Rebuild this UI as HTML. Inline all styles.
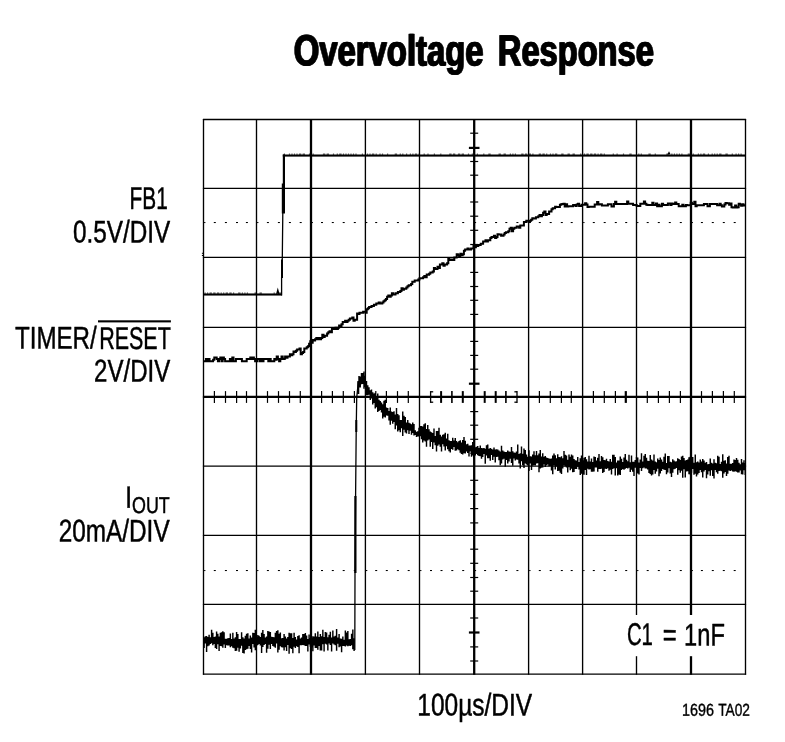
<!DOCTYPE html>
<html lang="en"><head><meta charset="utf-8"><title>Overvoltage Response</title>
<style>html,body{margin:0;padding:0;background:#fff}body{width:785px;height:742px;overflow:hidden}svg{display:block}text{font-family:"Liberation Sans",sans-serif;fill:#000;stroke:#000;stroke-width:0.5px;stroke-linejoin:round}</style>
</head><body>
<svg width="785" height="742" viewBox="0 0 785 742">
<defs><filter id="hb" x="-2%" y="-10%" width="104%" height="120%"><feOffset in="SourceGraphic" dx="-0.5" result="a"/><feOffset in="SourceGraphic" dx="0.5" result="b"/><feMerge><feMergeNode in="a"/><feMergeNode in="b"/></feMerge></filter></defs>
<rect width="785" height="742" fill="#fff"/>
<g stroke="#000" fill="none"><line x1="203.5" y1="118.9" x2="203.5" y2="674.8000000000001" stroke-width="1.35"/><line x1="256.5" y1="118.9" x2="256.5" y2="674.8000000000001" stroke-width="1.35"/><line x1="311.0" y1="118.9" x2="311.0" y2="674.8000000000001" stroke-width="2.3"/><line x1="365.4" y1="118.9" x2="365.4" y2="674.8000000000001" stroke-width="1.35"/><line x1="419.5" y1="118.9" x2="419.5" y2="674.8000000000001" stroke-width="1.35"/><line x1="474.2" y1="118.9" x2="474.2" y2="674.8000000000001" stroke-width="2.3"/><line x1="528.6" y1="118.9" x2="528.6" y2="674.8000000000001" stroke-width="1.35"/><line x1="582.6" y1="118.9" x2="582.6" y2="674.8000000000001" stroke-width="1.35"/><line x1="636.5" y1="118.9" x2="636.5" y2="674.8000000000001" stroke-width="1.35"/><line x1="691.0" y1="118.9" x2="691.0" y2="674.8000000000001" stroke-width="2.3"/><line x1="745.5" y1="118.9" x2="745.5" y2="674.8000000000001" stroke-width="1.35"/><line x1="202.9" y1="119.5" x2="746.1" y2="119.5" stroke-width="1.3"/><line x1="202.9" y1="188.4" x2="746.1" y2="188.4" stroke-width="1.3"/><line x1="202.9" y1="257.4" x2="746.1" y2="257.4" stroke-width="1.3"/><line x1="202.9" y1="327.4" x2="746.1" y2="327.4" stroke-width="1.3"/><line x1="202.9" y1="396.9" x2="746.1" y2="396.9" stroke-width="2.2"/><line x1="202.9" y1="466.2" x2="746.1" y2="466.2" stroke-width="1.3"/><line x1="202.9" y1="535.3" x2="746.1" y2="535.3" stroke-width="1.3"/><line x1="202.9" y1="604.3" x2="746.1" y2="604.3" stroke-width="1.3"/><line x1="202.9" y1="674.2" x2="746.1" y2="674.2" stroke-width="1.3"/></g>
<g fill="#000"><rect x="204.1" y="222.0" width="1.3" height="1.05"/><rect x="257.1" y="222.0" width="1.3" height="1.05"/><rect x="311.6" y="222.0" width="1.3" height="1.05"/><rect x="366.0" y="222.0" width="1.3" height="1.05"/><rect x="420.1" y="222.0" width="1.3" height="1.05"/><rect x="474.8" y="222.0" width="1.3" height="1.05"/><rect x="529.2" y="222.0" width="1.3" height="1.05"/><rect x="583.2" y="222.0" width="1.3" height="1.05"/><rect x="637.1" y="222.0" width="1.3" height="1.05"/><rect x="691.6" y="222.0" width="1.3" height="1.05"/><rect x="213.8" y="222.0" width="2.0" height="1.05"/><rect x="224.9" y="222.0" width="2.0" height="1.05"/><rect x="236.0" y="222.0" width="2.0" height="1.05"/><rect x="245.9" y="222.0" width="2.0" height="1.05"/><rect x="266.9" y="222.0" width="2.0" height="1.05"/><rect x="277.9" y="222.0" width="2.0" height="1.05"/><rect x="288.9" y="222.0" width="2.0" height="1.05"/><rect x="299.7" y="222.0" width="2.0" height="1.05"/><rect x="321.0" y="222.0" width="2.0" height="1.05"/><rect x="331.8" y="222.0" width="2.0" height="1.05"/><rect x="342.7" y="222.0" width="2.0" height="1.05"/><rect x="353.8" y="222.0" width="2.0" height="1.05"/><rect x="375.2" y="222.0" width="2.0" height="1.05"/><rect x="385.8" y="222.0" width="2.0" height="1.05"/><rect x="396.9" y="222.0" width="2.0" height="1.05"/><rect x="407.7" y="222.0" width="2.0" height="1.05"/><rect x="430.0" y="222.0" width="2.0" height="1.05"/><rect x="440.5" y="222.0" width="2.0" height="1.05"/><rect x="451.3" y="222.0" width="2.0" height="1.05"/><rect x="462.2" y="222.0" width="2.0" height="1.05"/><rect x="484.1" y="222.0" width="2.0" height="1.05"/><rect x="495.1" y="222.0" width="2.0" height="1.05"/><rect x="505.3" y="222.0" width="2.0" height="1.05"/><rect x="516.4" y="222.0" width="2.0" height="1.05"/><rect x="538.8" y="222.0" width="2.0" height="1.05"/><rect x="549.7" y="222.0" width="2.0" height="1.05"/><rect x="560.8" y="222.0" width="2.0" height="1.05"/><rect x="570.7" y="222.0" width="2.0" height="1.05"/><rect x="592.8" y="222.0" width="2.0" height="1.05"/><rect x="603.7" y="222.0" width="2.0" height="1.05"/><rect x="614.8" y="222.0" width="2.0" height="1.05"/><rect x="625.2" y="222.0" width="2.0" height="1.05"/><rect x="646.7" y="222.0" width="2.0" height="1.05"/><rect x="657.8" y="222.0" width="2.0" height="1.05"/><rect x="668.8" y="222.0" width="2.0" height="1.05"/><rect x="679.8" y="222.0" width="2.0" height="1.05"/><rect x="700.9" y="222.0" width="2.0" height="1.05"/><rect x="711.8" y="222.0" width="2.0" height="1.05"/><rect x="722.8" y="222.0" width="2.0" height="1.05"/><rect x="733.7" y="222.0" width="2.0" height="1.05"/><rect x="204.1" y="570.0" width="1.3" height="1.05"/><rect x="257.1" y="570.0" width="1.3" height="1.05"/><rect x="311.6" y="570.0" width="1.3" height="1.05"/><rect x="366.0" y="570.0" width="1.3" height="1.05"/><rect x="420.1" y="570.0" width="1.3" height="1.05"/><rect x="474.8" y="570.0" width="1.3" height="1.05"/><rect x="529.2" y="570.0" width="1.3" height="1.05"/><rect x="583.2" y="570.0" width="1.3" height="1.05"/><rect x="637.1" y="570.0" width="1.3" height="1.05"/><rect x="691.6" y="570.0" width="1.3" height="1.05"/><rect x="213.8" y="570.0" width="2.0" height="1.05"/><rect x="224.9" y="570.0" width="2.0" height="1.05"/><rect x="236.0" y="570.0" width="2.0" height="1.05"/><rect x="245.9" y="570.0" width="2.0" height="1.05"/><rect x="266.9" y="570.0" width="2.0" height="1.05"/><rect x="277.9" y="570.0" width="2.0" height="1.05"/><rect x="288.9" y="570.0" width="2.0" height="1.05"/><rect x="299.7" y="570.0" width="2.0" height="1.05"/><rect x="321.0" y="570.0" width="2.0" height="1.05"/><rect x="331.8" y="570.0" width="2.0" height="1.05"/><rect x="342.7" y="570.0" width="2.0" height="1.05"/><rect x="353.8" y="570.0" width="2.0" height="1.05"/><rect x="375.2" y="570.0" width="2.0" height="1.05"/><rect x="385.8" y="570.0" width="2.0" height="1.05"/><rect x="396.9" y="570.0" width="2.0" height="1.05"/><rect x="407.7" y="570.0" width="2.0" height="1.05"/><rect x="430.0" y="570.0" width="2.0" height="1.05"/><rect x="440.5" y="570.0" width="2.0" height="1.05"/><rect x="451.3" y="570.0" width="2.0" height="1.05"/><rect x="462.2" y="570.0" width="2.0" height="1.05"/><rect x="484.1" y="570.0" width="2.0" height="1.05"/><rect x="495.1" y="570.0" width="2.0" height="1.05"/><rect x="505.3" y="570.0" width="2.0" height="1.05"/><rect x="516.4" y="570.0" width="2.0" height="1.05"/><rect x="538.8" y="570.0" width="2.0" height="1.05"/><rect x="549.7" y="570.0" width="2.0" height="1.05"/><rect x="560.8" y="570.0" width="2.0" height="1.05"/><rect x="570.7" y="570.0" width="2.0" height="1.05"/><rect x="592.8" y="570.0" width="2.0" height="1.05"/><rect x="603.7" y="570.0" width="2.0" height="1.05"/><rect x="614.8" y="570.0" width="2.0" height="1.05"/><rect x="625.2" y="570.0" width="2.0" height="1.05"/><rect x="646.7" y="570.0" width="2.0" height="1.05"/><rect x="657.8" y="570.0" width="2.0" height="1.05"/><rect x="668.8" y="570.0" width="2.0" height="1.05"/><rect x="679.8" y="570.0" width="2.0" height="1.05"/><rect x="700.9" y="570.0" width="2.0" height="1.05"/><rect x="711.8" y="570.0" width="2.0" height="1.05"/><rect x="722.8" y="570.0" width="2.0" height="1.05"/><rect x="733.7" y="570.0" width="2.0" height="1.05"/></g>
<g stroke="#000" fill="none"><line x1="214.4" y1="391.1" x2="214.4" y2="402.9" stroke-width="1.2"/><line x1="225.5" y1="391.1" x2="225.5" y2="402.9" stroke-width="1.2"/><line x1="236.6" y1="391.1" x2="236.6" y2="402.9" stroke-width="1.2"/><line x1="246.5" y1="391.1" x2="246.5" y2="402.9" stroke-width="1.2"/><line x1="267.5" y1="391.1" x2="267.5" y2="402.9" stroke-width="1.2"/><line x1="278.5" y1="391.1" x2="278.5" y2="402.9" stroke-width="1.2"/><line x1="289.5" y1="391.1" x2="289.5" y2="402.9" stroke-width="1.2"/><line x1="300.3" y1="391.1" x2="300.3" y2="402.9" stroke-width="1.2"/><line x1="321.6" y1="391.1" x2="321.6" y2="402.9" stroke-width="1.2"/><line x1="332.4" y1="391.1" x2="332.4" y2="402.9" stroke-width="1.2"/><line x1="343.3" y1="391.1" x2="343.3" y2="402.9" stroke-width="1.2"/><line x1="354.4" y1="391.1" x2="354.4" y2="402.9" stroke-width="1.2"/><line x1="375.8" y1="391.1" x2="375.8" y2="402.9" stroke-width="1.2"/><line x1="386.4" y1="391.1" x2="386.4" y2="402.9" stroke-width="1.2"/><line x1="397.5" y1="391.1" x2="397.5" y2="402.9" stroke-width="1.2"/><line x1="408.3" y1="391.1" x2="408.3" y2="402.9" stroke-width="1.2"/><line x1="430.6" y1="391.8" x2="433.2" y2="391.8" stroke-width="1.3"/><line x1="430.6" y1="402.2" x2="433.2" y2="402.2" stroke-width="1.3"/><line x1="430.6" y1="391.1" x2="430.6" y2="402.9" stroke-width="1.3"/><line x1="441.1" y1="391.1" x2="441.1" y2="402.9" stroke-width="2.0"/><line x1="451.9" y1="391.1" x2="451.9" y2="402.9" stroke-width="1.6"/><line x1="462.8" y1="391.1" x2="462.8" y2="402.9" stroke-width="2.0"/><line x1="484.7" y1="391.1" x2="484.7" y2="402.9" stroke-width="2.0"/><line x1="495.7" y1="391.1" x2="495.7" y2="402.9" stroke-width="2.0"/><line x1="505.9" y1="391.1" x2="505.9" y2="402.9" stroke-width="1.6"/><line x1="517.0" y1="391.8" x2="514.4" y2="391.8" stroke-width="1.3"/><line x1="517.0" y1="402.2" x2="514.4" y2="402.2" stroke-width="1.3"/><line x1="517.0" y1="391.1" x2="517.0" y2="402.9" stroke-width="1.3"/><line x1="539.4" y1="391.1" x2="539.4" y2="402.9" stroke-width="1.2"/><line x1="550.3" y1="391.1" x2="550.3" y2="402.9" stroke-width="1.2"/><line x1="561.4" y1="391.1" x2="561.4" y2="402.9" stroke-width="1.2"/><line x1="571.3" y1="391.1" x2="571.3" y2="402.9" stroke-width="1.2"/><line x1="593.4" y1="391.1" x2="593.4" y2="402.9" stroke-width="1.2"/><line x1="604.3" y1="391.1" x2="604.3" y2="402.9" stroke-width="1.2"/><line x1="615.4" y1="391.1" x2="615.4" y2="402.9" stroke-width="1.2"/><line x1="625.8" y1="391.1" x2="625.8" y2="402.9" stroke-width="2.2"/><line x1="647.3" y1="391.1" x2="647.3" y2="402.9" stroke-width="1.2"/><line x1="658.4" y1="391.1" x2="658.4" y2="402.9" stroke-width="1.2"/><line x1="669.4" y1="391.1" x2="669.4" y2="402.9" stroke-width="1.2"/><line x1="680.4" y1="391.1" x2="680.4" y2="402.9" stroke-width="1.2"/><line x1="701.5" y1="391.1" x2="701.5" y2="402.9" stroke-width="1.2"/><line x1="712.4" y1="391.1" x2="712.4" y2="402.9" stroke-width="1.2"/><line x1="723.4" y1="391.1" x2="723.4" y2="402.9" stroke-width="1.2"/><line x1="734.3" y1="391.1" x2="734.3" y2="402.9" stroke-width="1.2"/><line x1="470.2" y1="133.2" x2="478.2" y2="133.2" stroke-width="1.2"/><line x1="468.9" y1="147.9" x2="479.5" y2="147.9" stroke-width="2.2"/><line x1="470.2" y1="161.5" x2="478.2" y2="161.5" stroke-width="1.2"/><line x1="470.2" y1="175.2" x2="478.2" y2="175.2" stroke-width="1.2"/><line x1="470.2" y1="202.0" x2="478.2" y2="202.0" stroke-width="1.2"/><line x1="470.2" y1="216.2" x2="478.2" y2="216.2" stroke-width="1.2"/><line x1="470.2" y1="230.3" x2="478.2" y2="230.3" stroke-width="1.2"/><line x1="470.2" y1="244.5" x2="478.2" y2="244.5" stroke-width="1.2"/><line x1="470.2" y1="272.4" x2="478.2" y2="272.4" stroke-width="1.2"/><line x1="470.2" y1="286.5" x2="478.2" y2="286.5" stroke-width="1.2"/><line x1="470.2" y1="300.3" x2="478.2" y2="300.3" stroke-width="1.2"/><line x1="470.2" y1="314.4" x2="478.2" y2="314.4" stroke-width="1.2"/><line x1="470.2" y1="341.4" x2="478.2" y2="341.4" stroke-width="1.2"/><line x1="470.2" y1="355.4" x2="478.2" y2="355.4" stroke-width="1.2"/><line x1="470.2" y1="369.2" x2="478.2" y2="369.2" stroke-width="1.2"/><line x1="468.9" y1="383.7" x2="479.5" y2="383.7" stroke-width="2.2"/><line x1="470.2" y1="411.6" x2="478.2" y2="411.6" stroke-width="1.2"/><line x1="470.2" y1="425.2" x2="478.2" y2="425.2" stroke-width="1.2"/><line x1="470.2" y1="439.3" x2="478.2" y2="439.3" stroke-width="1.2"/><line x1="470.2" y1="453.2" x2="478.2" y2="453.2" stroke-width="1.2"/><line x1="470.2" y1="480.3" x2="478.2" y2="480.3" stroke-width="1.2"/><line x1="470.2" y1="494.4" x2="478.2" y2="494.4" stroke-width="1.2"/><line x1="470.2" y1="508.6" x2="478.2" y2="508.6" stroke-width="1.2"/><line x1="470.2" y1="522.9" x2="478.2" y2="522.9" stroke-width="1.2"/><line x1="470.2" y1="549.2" x2="478.2" y2="549.2" stroke-width="1.2"/><line x1="470.2" y1="563.3" x2="478.2" y2="563.3" stroke-width="1.2"/><line x1="470.2" y1="577.5" x2="478.2" y2="577.5" stroke-width="1.2"/><line x1="470.2" y1="591.2" x2="478.2" y2="591.2" stroke-width="1.2"/><line x1="470.2" y1="618.0" x2="478.2" y2="618.0" stroke-width="1.2"/><line x1="468.9" y1="632.5" x2="479.5" y2="632.5" stroke-width="2.2"/><line x1="470.2" y1="646.9" x2="478.2" y2="646.9" stroke-width="1.2"/><line x1="470.2" y1="661.0" x2="478.2" y2="661.0" stroke-width="1.2"/></g>
<g stroke="#000" fill="none" stroke-linejoin="miter">
<rect x="203.5" y="293.45" width="78.4" height="2.1" fill="#000" stroke="none"/><path stroke-width="0.9" d="M204.5,293.10h1.2M207.0,293.10h1.2M209.5,293.10h2.4M213.2,293.10h2.4M216.9,293.10h2.4M220.6,293.10h1.2M223.1,293.10h1.2M225.6,293.10h2.4M229.3,293.10h2.4M233.0,293.10h1.2M238.1,293.10h2.4M241.8,293.10h1.2M244.3,293.10h1.2M246.8,293.10h1.2M254.5,293.10h2.4M259.5,293.10h2.4M273.6,293.10h1.2M278.7,293.10h2.4"/>
<polyline stroke-width="1.4" points="276.8,294 277.8,290.3 278.8,294"/>
<polyline stroke-width="1.3" points="281.6,295.4 281.6,278 282.3,258 282.8,213"/>
<line x1="282" y1="259.5" x2="282" y2="278" stroke-width="2"/>
<line x1="283.4" y1="183.5" x2="283.4" y2="213.5" stroke-width="3.2"/>
<line x1="283.9" y1="154.5" x2="283.9" y2="185" stroke-width="2.2"/>
<rect x="282.8" y="154.50" width="462.7" height="2.1" fill="#000" stroke="none"/><path stroke-width="0.9" d="M283.8,154.15h1.2M288.9,154.15h1.2M291.4,154.15h1.2M293.9,154.15h1.2M296.4,154.15h1.2M298.9,154.15h2.4M302.6,154.15h2.4M308.9,154.15h2.4M312.6,154.15h1.2M322.9,154.15h2.4M326.6,154.15h2.4M332.9,154.15h1.2M336.7,154.15h1.2M339.2,154.15h2.4M342.9,154.15h1.2M345.4,154.15h1.2M347.9,154.15h1.2M350.4,154.15h1.2M352.9,154.15h1.2M355.4,154.15h1.2M361.8,154.15h1.2M366.9,154.15h1.2M369.4,154.15h1.2M371.9,154.15h2.4M375.6,154.15h1.2M379.4,154.15h1.2M381.9,154.15h1.2M387.0,154.15h1.2M394.7,154.15h2.4M399.7,154.15h1.2M402.2,154.15h1.2M406.0,154.15h1.2M409.8,154.15h1.2M412.3,154.15h1.2M414.8,154.15h2.4M418.5,154.15h1.2M423.6,154.15h1.2M427.4,154.15h1.2M433.8,154.15h1.2M440.2,154.15h1.2M449.2,154.15h2.4M452.9,154.15h2.4M457.9,154.15h2.4M461.6,154.15h2.4M467.9,154.15h1.2M471.7,154.15h1.2M476.8,154.15h1.2M483.2,154.15h1.2M488.3,154.15h2.4M498.5,154.15h2.4M503.5,154.15h2.4M509.8,154.15h1.2M512.3,154.15h1.2M514.8,154.15h1.2M521.2,154.15h2.4M524.9,154.15h2.4M528.6,154.15h2.4M532.3,154.15h1.2M538.7,154.15h2.4M542.4,154.15h2.4M546.1,154.15h1.2M549.9,154.15h1.2M552.4,154.15h1.2M554.9,154.15h2.4M561.2,154.15h2.4M567.5,154.15h2.4M572.5,154.15h2.4M580.1,154.15h1.2M583.9,154.15h1.2M586.4,154.15h2.4M590.1,154.15h2.4M593.8,154.15h2.4M597.5,154.15h1.2M600.0,154.15h2.4M603.7,154.15h1.2M612.7,154.15h1.2M616.5,154.15h1.2M622.9,154.15h1.2M629.3,154.15h2.4M638.2,154.15h1.2M640.7,154.15h1.2M648.4,154.15h2.4M654.7,154.15h1.2M666.3,154.15h2.4M671.3,154.15h1.2M673.8,154.15h1.2M676.3,154.15h1.2M678.8,154.15h1.2M681.3,154.15h1.2M687.7,154.15h2.4M692.7,154.15h1.2M697.8,154.15h1.2M700.3,154.15h1.2M702.8,154.15h2.4M707.8,154.15h1.2M711.6,154.15h1.2M714.1,154.15h1.2M716.6,154.15h1.2M719.1,154.15h2.4M725.4,154.15h2.4M731.7,154.15h1.2M735.5,154.15h1.2M738.0,154.15h1.2M740.5,154.15h1.2"/>
<polyline stroke-width="1.2" points="668,154.5 669,152.6 670,154.5"/>
<path stroke-width="2.0" stroke-linejoin="miter" d="M203.5,361.20H204.7V361.20H205.9V358.90H207.1V361.20H208.3V358.90H209.5V361.20H210.7V361.20H211.9V361.20H213.1V359.70H214.3V357.40H215.5V357.40H216.7V358.90H217.9V361.20H219.1V358.90H220.3V357.40H221.5V361.20H222.7V357.40H223.9V358.90H225.1V361.20H226.3V361.20H227.5V361.20H228.7V361.20H229.9V358.90H231.1V361.20H232.3V357.40H233.5V361.20H234.7V361.20H235.9V358.90H237.1V358.90H238.3V358.90H239.5V358.90H240.7V358.90H241.9V361.20H243.1V361.20H244.3V361.20H245.5V361.20H246.7V358.90H247.9V358.90H249.1V358.90H250.3V357.40H251.5V358.90H252.7V357.40H253.9V358.90H255.1V361.20H256.3V361.20H257.5V358.90H258.7V358.90H259.9V361.20H261.1V358.90H262.3V361.20H263.5V358.90H264.7V358.90H265.9V358.90H267.1V358.90H268.3V361.20H269.5V358.90H270.7V361.20H271.9V361.20H273.1V361.20H274.3V358.90H275.5V359.70H276.7V356.60H277.9V358.90H279.1V361.20H280.3V358.90H281.5V356.60H282.7V358.90H283.9V358.80H285.1V356.50H286.3V357.65H287.5V356.50H288.7V356.50H289.9V354.20H291.1V355.35H292.3V354.20H293.5V351.55H294.7V351.90H295.9V350.75H297.1V349.60H298.3V349.60H299.5V348.45H300.7V354.20H301.9V353.05H303.1V351.90H304.3V348.45H305.5V348.45H306.7V347.30H307.9V346.15H309.1V343.85H310.3V341.20H311.5V342.70H312.7V340.05H313.9V340.40H315.1V339.25H316.3V338.10H317.5V339.25H318.7V338.10H319.9V339.25H321.1V338.10H322.3V334.65H323.5V336.95H324.7V335.80H325.9V335.80H327.1V333.50H328.3V332.35H329.5V331.20H330.7V332.35H331.9V328.90H333.1V328.90H334.3V328.90H335.5V327.75H336.7V328.90H337.9V327.75H339.1V325.45H340.3V326.60H341.5V324.30H342.7V322.00H343.9V322.00H345.1V320.85H346.3V322.00H347.5V320.85H348.7V319.70H349.9V318.55H351.1V318.55H352.3V317.40H353.5V320.85H354.7V319.70H355.9V319.70H357.1V313.60H358.3V313.95H359.5V312.80H360.7V312.80H361.9V312.80H363.1V311.65H364.3V311.65H365.5V312.80H366.7V309.35H367.9V308.20H369.1V307.05H370.3V307.05H371.5V305.90H372.7V305.90H373.9V304.75H375.1V304.75H376.3V303.60H377.5V303.60H378.7V302.45H379.9V303.60H381.1V303.60H382.3V302.45H383.5V301.30H384.7V300.15H385.9V299.00H387.1V296.70H388.3V295.55H389.5V296.70H390.7V295.55H391.9V293.25H393.1V294.40H394.3V294.40H395.5V293.25H396.7V293.25H397.9V292.10H399.1V292.10H400.3V290.95H401.5V288.30H402.7V289.80H403.9V288.65H405.1V288.65H406.3V287.50H407.5V286.35H408.7V285.20H409.9V285.20H411.1V284.05H412.3V281.75H413.5V281.75H414.7V280.60H415.9V280.60H417.1V280.60H418.3V279.45H419.5V278.30H420.7V278.30H421.9V278.30H423.1V277.15H424.3V276.00H425.5V277.15H426.7V274.50H427.9V274.85H429.1V273.70H430.3V272.55H431.5V272.55H432.7V271.40H433.9V267.95H435.1V269.10H436.3V269.10H437.5V266.80H438.7V267.95H439.9V264.50H441.1V264.50H442.3V263.35H443.5V265.65H444.7V264.50H445.9V264.50H447.1V263.35H448.3V258.75H449.5V259.90H450.7V259.90H451.9V259.55H453.1V259.90H454.3V257.60H455.5V257.60H456.7V254.15H457.9V255.30H459.1V256.45H460.3V253.80H461.5V255.30H462.7V254.15H463.9V250.70H465.1V249.55H466.3V249.55H467.5V248.40H468.7V249.55H469.9V249.55H471.1V248.40H472.3V248.40H473.5V245.75H474.7V247.25H475.9V246.10H477.1V246.10H478.3V244.95H479.5V244.95H480.7V243.80H481.9V243.80H483.1V241.50H484.3V241.50H485.5V240.35H486.7V241.50H487.9V240.35H489.1V240.35H490.3V238.05H491.5V236.90H492.7V236.90H493.9V235.75H495.1V238.05H496.3V236.90H497.5V234.25H498.7V234.60H499.9V234.60H501.1V235.75H502.3V235.75H503.5V234.60H504.7V233.10H505.9V232.30H507.1V232.30H508.3V231.15H509.5V228.85H510.7V227.70H511.9V231.15H513.1V228.85H514.3V227.70H515.5V227.70H516.7V226.55H517.9V226.55H519.1V227.70H520.3V225.40H521.5V225.40H522.7V225.40H523.9V221.95H525.1V221.95H526.3V220.80H527.5V220.80H528.7V221.95H529.9V220.80H531.1V219.65H532.3V218.15H533.5V218.50H534.7V218.50H535.9V217.35H537.1V217.35H538.3V216.20H539.5V215.05H540.7V216.20H541.9V215.05H543.1V212.75H544.3V211.60H545.5V215.05H546.7V213.90H547.9V213.90H549.1V211.60H550.3V211.60H551.5V209.30H552.7V208.15H553.9V208.15H555.1V206.65H556.3V207.00H557.5V207.00H558.7V207.00H559.9V204.70H561.1V204.36H562.3V204.09H563.5V203.82H564.7V206.47H565.9V204.13H567.1V206.39H568.3V206.35H569.5V206.31H570.7V206.27H571.9V206.23H573.1V204.99H574.3V204.95H575.5V206.11H576.7V204.57H577.9V203.74H579.1V206.00H580.3V205.96H581.5V204.72H582.7V204.69H583.9V204.66H585.1V203.14H586.3V204.62H587.5V206.90H588.7V206.87H589.9V206.85H591.1V206.83H592.3V206.81H593.5V206.78H594.7V204.46H595.9V204.44H597.1V202.12H598.3V204.39H599.5V204.37H600.7V204.35H601.9V205.53H603.1V205.50H604.3V205.48H605.5V205.46H606.7V205.44H607.9V204.21H609.1V204.19H610.3V204.17H611.5V206.45H612.7V206.42H613.9V204.10H615.1V201.78H616.3V204.06H617.5V204.03H618.7V204.01H619.9V203.99H621.1V203.97H622.3V203.94H623.5V203.92H624.7V203.90H625.9V203.88H627.1V201.55H628.3V203.83H629.5V203.81H630.7V203.80H631.9V203.80H633.1V205.01H634.3V205.01H635.5V205.01H636.7V206.11H637.9V206.12H639.1V206.12H640.3V203.82H641.5V203.83H642.7V203.83H643.9V201.53H645.1V203.83H646.3V204.64H647.5V205.04H648.7V205.04H649.9V205.04H651.1V205.05H652.3V202.75H653.5V205.05H654.7V205.05H655.9V203.56H657.1V206.16H658.3V204.66H659.5V206.17H660.7V206.17H661.9V203.87H663.1V205.07H664.3V205.08H665.5V205.08H666.7V205.08H667.9V203.58H669.1V203.59H670.3V205.09H671.5V203.59H672.7V203.89H673.9V203.90H675.1V202.40H676.3V203.90H677.5V203.91H678.7V206.21H679.9V206.21H681.1V206.21H682.3V204.72H683.5V206.22H684.7V206.22H685.9V205.12H687.1V205.13H688.3V205.13H689.5V205.13H690.7V202.83H691.9V203.64H693.1V203.94H694.3V201.64H695.5V206.25H696.7V205.15H697.9V205.15H699.1V205.15H700.3V205.16H701.5V205.16H702.7V205.16H703.9V203.96H705.1V203.97H706.3V203.97H707.5V206.27H708.7V206.27H709.9V203.98H711.1V203.98H712.3V203.98H713.5V203.99H714.7V203.99H715.9V203.99H717.1V205.19H718.3V205.20H719.5V203.70H720.7V205.27H721.9V206.48H723.1V206.59H724.3V204.40H725.5V203.01H726.7V203.13H727.9V203.24H729.1V204.85H730.3V203.46H731.5V207.37H732.7V207.49H733.9V207.60H735.1V205.39H736.3V207.53H737.5V207.37H738.7V203.81H739.9V204.45H741.1V205.79H742.3V204.13H743.5V205.47H744.7V205.31H745.5"/>
<path stroke-width="1.45" d="M204.10,637.2V647.9M205.35,636.2V643.5M206.60,635.9V652.1M207.85,636.9V646.3M209.10,634.7V645.5M210.35,637.2V644.0M211.60,629.8V643.3M212.85,632.7V645.3M214.10,637.0V644.1M215.35,636.4V648.0M216.60,631.6V649.0M217.85,633.7V644.2M219.10,636.5V651.0M220.35,632.8V646.1M221.60,632.3V646.2M222.85,631.3V647.8M224.10,632.2V644.4M225.35,638.7V648.0M226.60,638.8V645.3M227.85,638.2V645.5M229.10,638.1V645.4M230.35,633.4V647.2M231.60,638.9V646.2M232.85,632.7V647.7M234.10,638.4V648.2M235.35,637.2V651.1M236.60,632.1V650.8M237.85,634.0V647.8M239.10,639.1V651.7M240.35,639.1V648.4M241.60,632.3V645.8M242.85,637.3V652.9M244.10,638.5V653.6M245.35,635.8V650.0M246.60,633.8V649.2M247.85,633.3V648.8M249.10,638.6V646.1M250.35,635.6V648.9M251.60,637.4V652.5M252.85,632.8V644.1M254.10,632.9V647.5M255.35,629.8V650.2M256.60,636.8V646.0M257.85,635.0V644.9M259.10,635.8V644.1M260.35,637.0V645.6M261.60,632.7V653.0M262.85,630.0V647.1M264.10,634.0V645.0M265.35,637.5V643.9M266.60,636.4V652.8M267.85,630.9V648.7M269.10,631.5V644.7M270.35,632.1V649.0M271.60,636.8V644.1M272.85,636.9V646.0M274.10,637.3V646.8M275.35,632.7V647.7M276.60,631.0V643.5M277.85,630.3V652.4M279.10,633.8V649.8M280.35,632.6V646.3M281.60,638.2V647.3M282.85,638.1V647.4M284.10,634.1V650.4M285.35,636.4V647.2M286.60,638.5V650.9M287.85,637.0V644.9M289.10,632.8V653.7M290.35,633.2V648.3M291.60,633.2V648.9M292.85,637.9V653.3M294.10,632.7V646.8M295.35,637.0V647.9M296.60,639.5V646.2M297.85,636.1V646.9M299.10,635.3V653.3M300.35,638.4V645.2M301.60,637.6V645.3M302.85,634.0V645.1M304.10,634.0V645.3M305.35,633.1V645.9M306.60,635.4V646.1M307.85,639.0V651.5M309.10,634.6V644.6M310.35,638.0V646.7M311.60,637.8V647.5M312.85,636.2V651.2M314.10,636.6V645.5M315.35,633.2V648.1M316.60,636.4V648.0M317.85,631.6V649.8M319.10,636.9V645.9M320.35,633.9V650.4M321.60,636.2V650.5M322.85,629.8V644.2M324.10,637.1V651.4M325.35,632.1V643.7M326.60,632.4V644.6M327.85,637.3V650.5M329.10,634.7V643.6M330.35,631.8V645.1M331.60,637.5V651.5M332.85,630.6V643.5M334.10,636.4V644.5M335.35,635.8V645.3M336.60,629.0V650.8M337.85,637.5V643.8M339.10,633.9V647.3M340.35,638.6V646.5M341.60,638.8V652.2M342.85,636.6V646.0M344.10,639.7V646.0M345.35,630.6V646.4M346.60,632.4V645.5M347.85,630.9V646.2M349.10,639.3V645.8M350.35,639.0V645.9M351.60,633.8V645.3M352.85,629.6V649.2M354.10,638.3V651.1"/>
<polyline stroke-width="1.3" points="354.8,650 355.0,573 355.6,496 356.2,431 356.7,398 357.7,388 358.3,382"/>
<line x1="355.4" y1="496" x2="355.4" y2="573" stroke-width="2.2"/>
<line x1="356.3" y1="420" x2="356.3" y2="432" stroke-width="2.0"/>
<line x1="358.3" y1="381" x2="358.3" y2="394" stroke-width="2.0"/>
<path stroke-width="1.45" d="M359.00,376.0V387.4M360.25,376.5V387.4M361.50,373.0V384.3M362.75,373.0V383.9M364.00,371.4V388.8M365.25,375.7V387.1M366.50,381.1V395.2M367.75,385.2V395.2M369.00,387.3V394.7M370.25,390.2V400.0M371.50,389.5V398.4M372.75,392.2V404.4M374.00,393.6V402.9M375.25,392.7V408.4M376.50,396.5V407.2M377.75,393.5V411.9M379.00,399.8V411.1M380.25,401.0V410.1M381.50,402.5V412.6M382.75,404.3V418.4M384.00,400.7V416.8M385.25,399.7V417.4M386.50,407.6V415.5M387.75,408.1V415.8M389.00,411.1V420.6M390.25,407.6V424.8M391.50,411.6V420.8M392.75,411.9V423.7M394.00,411.2V422.1M395.25,414.6V429.2M396.50,408.0V425.4M397.75,413.9V431.4M399.00,415.3V430.2M400.25,420.0V432.3M401.50,420.0V428.3M402.75,411.6V435.9M404.00,415.7V429.8M405.25,417.0V432.4M406.50,422.5V433.6M407.75,419.9V430.3M409.00,422.8V434.0M410.25,423.5V430.8M411.50,424.3V434.7M412.75,422.5V432.9M414.00,423.9V435.5M415.25,430.2V435.1M416.50,431.7V437.0M417.75,431.2V436.6M419.00,427.7V436.6M420.25,426.0V436.2M421.50,426.0V439.3M422.75,426.6V442.5M424.00,424.2V440.6M425.25,423.3V441.5M426.50,429.0V446.7M427.75,425.0V440.6M429.00,429.3V439.6M430.25,431.4V446.7M431.50,432.2V442.0M432.75,433.1V449.0M434.00,428.5V442.6M435.25,435.9V445.3M436.50,430.9V451.6M437.75,431.1V445.8M439.00,427.8V444.5M440.25,434.8V446.8M441.50,436.6V451.6M442.75,434.8V444.2M444.00,434.2V446.4M445.25,432.7V450.6M446.50,438.5V446.3M447.75,433.7V449.2M449.00,440.3V451.3M450.25,440.9V452.6M451.50,441.0V449.0M452.75,437.8V449.7M454.00,440.4V447.0M455.25,438.1V450.7M456.50,441.0V450.6M457.75,442.3V449.2M459.00,441.0V450.2M460.25,440.3V452.8M461.50,442.5V454.0M462.75,440.0V454.5M464.00,436.9V453.3M465.25,440.7V453.4M466.50,444.3V451.4M467.75,443.8V453.0M469.00,445.5V456.4M470.25,445.4V451.4M471.50,445.3V456.8M472.75,442.0V455.6M474.00,447.3V458.5M475.25,447.2V455.5M476.50,446.7V454.0M477.75,446.1V455.2M479.00,448.0V456.1M480.25,445.6V456.2M481.50,447.9V458.7M482.75,448.2V456.9M484.00,447.9V454.1M485.25,448.8V463.8M486.50,445.3V455.4M487.75,444.4V458.2M489.00,448.8V458.3M490.25,448.0V460.8M491.50,448.7V454.9M492.75,449.4V459.9M494.00,447.5V456.8M495.25,449.6V462.6M496.50,449.2V456.9M497.75,449.4V456.8M499.00,450.5V460.2M500.25,451.5V465.3M501.50,445.7V463.5M502.75,450.6V459.5M504.00,451.6V458.8M505.25,451.9V466.7M506.50,452.1V460.1M507.75,450.4V463.5M509.00,451.6V461.6M510.25,451.7V458.8M511.50,447.1V463.0M512.75,451.2V465.8M514.00,452.5V458.6M515.25,452.7V460.4M516.50,451.6V459.5M517.75,444.5V459.8M519.00,454.1V463.4M520.25,453.2V468.5M521.50,446.6V461.2M522.75,453.8V465.2M524.00,448.4V468.0M525.25,450.0V463.5M526.50,454.4V464.4M527.75,456.8V465.4M529.00,450.2V470.9M530.25,456.2V463.5M531.50,456.6V470.0M532.75,454.5V465.7M534.00,451.3V465.2M535.25,455.2V465.5M536.50,450.9V463.6M537.75,455.3V463.2M539.00,453.4V472.2M540.25,450.1V468.5M541.50,456.4V467.8M542.75,453.2V467.4M544.00,456.7V464.4M545.25,456.0V467.0M546.50,457.4V465.3M547.75,458.0V464.6M549.00,458.5V466.3M550.25,458.7V466.1M551.50,458.6V470.4M552.75,455.4V474.3M554.00,453.6V465.4M555.25,455.3V469.6M556.50,458.2V466.6M557.75,454.2V471.0M559.00,456.9V470.8M560.25,457.2V472.7M561.50,456.3V474.0M562.75,458.2V468.6M564.00,451.1V465.6M565.25,454.7V466.2M566.50,455.4V467.5M567.75,459.7V472.4M569.00,454.4V467.3M570.25,456.8V470.2M571.50,454.5V468.7M572.75,455.5V472.2M574.00,459.0V472.1M575.25,460.3V469.1M576.50,460.4V469.1M577.75,456.9V466.7M579.00,461.9V469.6M580.25,458.2V474.9M581.50,455.4V473.7M582.75,460.3V474.5M584.00,457.8V474.7M585.25,456.9V469.9M586.50,459.2V475.1M587.75,461.5V468.8M589.00,455.7V469.5M590.25,461.5V469.2M591.50,458.5V471.8M592.75,461.9V471.8M594.00,456.4V471.6M595.25,457.1V467.6M596.50,460.6V467.4M597.75,457.8V471.7M599.00,453.9V468.9M600.25,461.2V468.9M601.50,455.9V468.7M602.75,457.2V473.1M604.00,460.0V471.9M605.25,460.2V468.7M606.50,458.8V469.0M607.75,461.1V468.2M609.00,461.6V470.7M610.25,459.1V469.8M611.50,461.7V474.4M612.75,454.7V469.1M614.00,454.7V468.2M615.25,457.1V475.5M616.50,462.4V468.2M617.75,460.4V475.6M619.00,460.6V474.4M620.25,456.4V475.0M621.50,458.8V469.9M622.75,461.9V469.0M624.00,457.6V469.7M625.25,454.1V468.7M626.50,459.8V468.0M627.75,461.2V468.5M629.00,454.7V467.8M630.25,462.2V471.9M631.50,455.5V469.8M632.75,461.8V471.7M634.00,461.7V476.0M635.25,460.1V467.7M636.50,457.0V467.7M637.75,457.5V473.6M639.00,462.6V474.6M640.25,459.4V468.1M641.50,453.3V471.1M642.75,461.5V468.3M644.00,455.8V467.4M645.25,454.1V468.6M646.50,457.8V468.6M647.75,460.7V469.5M649.00,461.0V473.0M650.25,455.1V473.9M651.50,459.6V475.5M652.75,460.4V474.6M654.00,454.6V470.1M655.25,461.5V473.7M656.50,462.2V471.5M657.75,458.4V468.7M659.00,460.1V476.2M660.25,457.4V473.4M661.50,459.4V471.0M662.75,461.8V469.1M664.00,456.8V469.7M665.25,453.5V470.1M666.50,462.9V474.2M667.75,456.1V472.6M669.00,455.9V468.2M670.25,461.8V473.5M671.50,462.2V477.0M672.75,459.2V472.8M674.00,460.5V469.2M675.25,461.5V468.8M676.50,461.3V468.1M677.75,458.2V474.7M679.00,459.0V470.2M680.25,460.1V472.7M681.50,456.4V470.7M682.75,455.7V477.7M684.00,457.9V469.3M685.25,460.4V477.5M686.50,459.9V471.6M687.75,459.4V471.3M689.00,457.3V474.2M690.25,456.8V474.5M691.50,462.6V472.7M692.75,457.0V469.0M694.00,462.7V474.8M695.25,454.6V473.8M696.50,462.2V476.6M697.75,461.4V474.5M699.00,462.5V472.9M700.25,459.4V470.0M701.50,461.4V472.2M702.75,458.9V477.6M704.00,460.4V471.4M705.25,462.7V469.9M706.50,462.0V478.2M707.75,464.2V474.4M709.00,464.0V471.2M710.25,458.6V475.8M711.50,462.8V470.3M712.75,463.4V476.1M714.00,459.2V478.4M715.25,462.8V470.1M716.50,463.2V472.2M717.75,455.8V473.8M719.00,456.8V470.9M720.25,464.0V470.7M721.50,461.7V471.3M722.75,454.2V477.7M724.00,460.8V473.6M725.25,460.2V472.1M726.50,463.5V476.0M727.75,457.0V473.7M729.00,455.7V470.4M730.25,463.8V471.0M731.50,463.8V470.6M732.75,462.9V471.5M734.00,459.6V471.8M735.25,460.1V471.2M736.50,457.9V471.7M737.75,459.8V472.5M739.00,462.8V472.5M740.25,464.3V470.6M741.50,459.0V474.3M742.75,462.5V474.6M744.00,460.2V470.3M745.25,463.1V474.9"/>
</g>
<rect x="201.9" y="252.8" width="1.6" height="1" fill="#000"/><rect x="201.9" y="255" width="1.6" height="1" fill="#000"/>
<rect x="622" y="615" width="108" height="41.2" fill="#fff"/>
<g filter="url(#hb)">
<text x="293.16" y="65.45" transform="rotate(0.04 388.1 65.45)" font-size="43.5" font-weight="bold" textLength="189.96" lengthAdjust="spacingAndGlyphs" style="stroke-width:0.7px">Overvoltage</text>
<text x="497.32" y="65.45" transform="rotate(0.04 575.3 65.45)" font-size="43.5" font-weight="bold" textLength="156.04" lengthAdjust="spacingAndGlyphs" style="stroke-width:0.7px">Response</text>
</g>
<text x="129.55" y="208.55" transform="rotate(0.04 148.6 208.55)" font-size="31.4" font-weight="normal" textLength="38.19" lengthAdjust="spacingAndGlyphs">FB1</text>
<text x="73.04" y="242.55" transform="rotate(0.04 121.6 242.55)" font-size="31.4" font-weight="normal" textLength="97.17" lengthAdjust="spacingAndGlyphs">0.5V/DIV</text>
<text x="15.03" y="348.55" transform="rotate(0.04 55.9 348.55)" font-size="31.4" font-weight="normal" textLength="81.72" lengthAdjust="spacingAndGlyphs">TIMER/</text>
<text x="99.24" y="348.55" transform="rotate(0.04 135.0 348.55)" font-size="31.4" font-weight="normal" textLength="71.54" lengthAdjust="spacingAndGlyphs">RESET</text>
<rect x="98" y="320.3" width="72.9" height="2.1" fill="#000"/>
<text x="94.06" y="381.45" transform="rotate(0.04 132.2 381.45)" font-size="31.4" font-weight="normal" textLength="76.19" lengthAdjust="spacingAndGlyphs">2V/DIV</text>
<text x="125.0" y="507.65" transform="rotate(0.04 128 507)" font-size="31" style="stroke-width:0.3px" textLength="7.2" lengthAdjust="spacingAndGlyphs">I</text>
<text x="132.06" y="512.9" transform="rotate(0.04 150.9 512.9)" font-size="23" font-weight="normal" textLength="37.67" lengthAdjust="spacingAndGlyphs">OUT</text>
<text x="58.67" y="541.45" transform="rotate(0.04 114.2 541.45)" font-size="31.4" font-weight="normal" textLength="110.98" lengthAdjust="spacingAndGlyphs">20mA/DIV</text>
<text x="417.29" y="715.55" transform="rotate(0.04 474.7 715.55)" font-size="31.4" font-weight="normal" textLength="114.86" lengthAdjust="spacingAndGlyphs">100µs/DIV</text>
<text x="682.09" y="715.7" transform="rotate(0.04 698.1 715.7)" font-size="17.3" font-weight="normal" textLength="31.96" lengthAdjust="spacingAndGlyphs" style="stroke-width:0.4px">1696</text>
<text x="718.22" y="715.7" transform="rotate(0.04 734.1 715.7)" font-size="17.3" font-weight="normal" textLength="31.75" lengthAdjust="spacingAndGlyphs" style="stroke-width:0.4px">TA02</text>
<text x="626.89" y="645.45" transform="rotate(0.04 639.9 645.45)" font-size="31.4" font-weight="normal" textLength="26.01" lengthAdjust="spacingAndGlyphs">C1</text>
<text x="662.83" y="645.45" transform="rotate(0.04 669.8 645.45)" font-size="31.4" font-weight="normal" textLength="13.98" lengthAdjust="spacingAndGlyphs">=</text>
<text x="684.08" y="645.45" transform="rotate(0.04 704.5 645.45)" font-size="31.4" font-weight="normal" textLength="40.78" lengthAdjust="spacingAndGlyphs">1nF</text>
</svg></body></html>
